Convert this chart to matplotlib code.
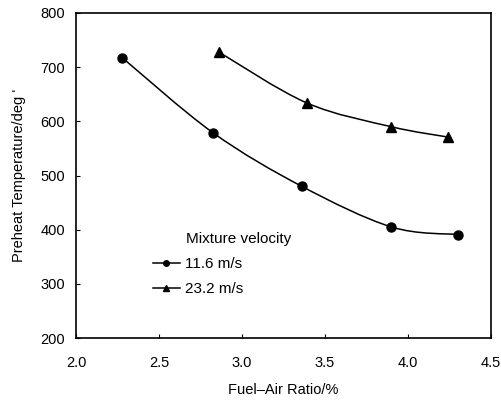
import numpy as np
import matplotlib
matplotlib.use('Agg')
import matplotlib.pyplot as plt
from matplotlib.path import Path
from matplotlib.patches import PathPatch
from matplotlib.lines import Line2D

plt.rcParams['font.family'] = ['Liberation Sans', 'DejaVu Sans']

# fuel-air ratio (%) and preheat temperature
far_slow = [2.28, 2.825, 3.36, 3.90, 4.30]
temp_slow = [717, 579, 480, 405, 391]
far_fast = [2.86, 3.39, 3.90, 4.24]
temp_fast = [728, 634, 590, 571]

labels = ['11.6 m/s', '23.2 m/s']
legend_title = 'Mixture velocity'
xticks = [2.0, 2.5, 3.0, 3.5, 4.0, 4.5]
yticks = [200, 300, 400, 500, 600, 700, 800]


def smooth_path(xs, ys, k=1 / 6):
    # catmull-rom style bezier through the measured points
    pts = np.column_stack([xs, ys]).astype(float)
    verts = [pts[0]]
    codes = [Path.MOVETO]
    n = len(pts)
    for i in range(n - 1):
        p0 = pts[max(i - 1, 0)]
        p1 = pts[i]
        p2 = pts[i + 1]
        p3 = pts[min(i + 2, n - 1)]
        c1 = p1 + (p2 - p0) * k
        c2 = p2 - (p3 - p1) * k
        verts += [c1, c2, p2]
        codes += [Path.CURVE4] * 3
    return Path(verts, codes)


fig = plt.figure(figsize=(5.02, 4.0), dpi=100)
ax = fig.add_axes([0.1514, 0.155, 0.8267, 0.8125])

for xs, ys, m in [(far_slow, temp_slow, 'o'), (far_fast, temp_fast, '^')]:
    ax.add_patch(PathPatch(smooth_path(xs, ys), fill=False, lw=1.1, color='black'))
    ax.plot(xs, ys, ls='none', marker=m, ms=6.5, color='black')

ax.set_xlim(2.0, 4.5)
ax.set_ylim(200, 800)
ax.set_xticks(xticks)
ax.set_xticklabels(['%.1f' % v for v in xticks])
ax.set_yticks(yticks)
ax.tick_params(direction='in', length=3, width=0.8, labelsize=10.5)
ax.tick_params(axis='x', pad=13)
ax.tick_params(axis='y', pad=8)
for s in ax.spines.values():
    s.set_linewidth(1.2)

ax.set_xlabel('Fuel\u2013Air Ratio/%', fontsize=10.5, labelpad=9)
ax.set_ylabel("Preheat Temperature/deg '", fontsize=10.5, labelpad=10)

handles = [Line2D([], [], color='black', lw=1.1, marker='o', ms=4),
           Line2D([], [], color='black', lw=1.1, marker='^', ms=4)]
ax.legend(handles, labels, loc='upper left', bbox_to_anchor=(0.17, 0.268),
          frameon=False, fontsize=11, handlelength=1.8, handletextpad=0.3,
          labelspacing=0.75, borderaxespad=0)
ax.text(0.265, 0.283, legend_title, transform=ax.transAxes, fontsize=11,
        ha='left', va='bottom')

fig.savefig('out.png', dpi=100)
